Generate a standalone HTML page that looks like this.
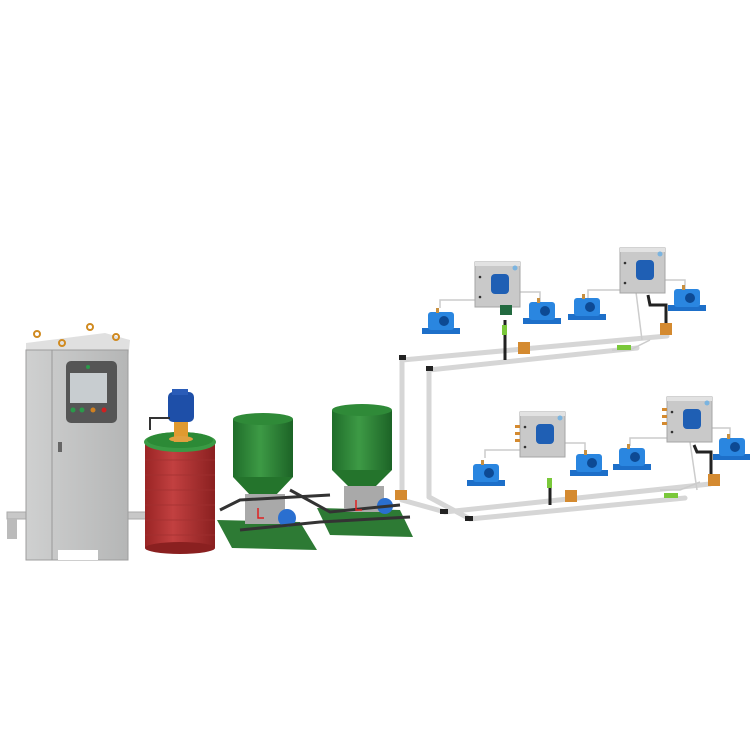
<!DOCTYPE html>
<html><head><meta charset="utf-8"><style>html,body{margin:0;padding:0;background:#fff}svg{display:block}</style></head>
<body>
<svg width="750" height="750" viewBox="0 0 750 750" xmlns="http://www.w3.org/2000/svg">
<defs>
<linearGradient id="gc" x1="0" x2="1"><stop offset="0" stop-color="#cfd0d0"/><stop offset="1" stop-color="#b5b6b6"/></linearGradient>
<linearGradient id="red" x1="0" x2="1"><stop offset="0" stop-color="#9a2525"/><stop offset=".4" stop-color="#c24040"/><stop offset="1" stop-color="#8a2020"/></linearGradient>
<linearGradient id="grn" x1="0" x2="1"><stop offset="0" stop-color="#1f6d2a"/><stop offset=".45" stop-color="#3d9a45"/><stop offset="1" stop-color="#1c6326"/></linearGradient>
<g id="blk"><path d="M0 20 L38 20 L38 26 L0 26Z" fill="#1d6fc9"/><rect x="6" y="4" width="26" height="18" rx="3" fill="#2a86e0"/><circle cx="22" cy="13" r="5" fill="#0d4a94"/><rect x="14" y="0" width="3" height="5" fill="#c89040"/></g>
<g id="box"><rect x="0" y="0" width="45" height="45" fill="#c9c9c9" stroke="#a5a5a5"/><rect x="0" y="0" width="45" height="4" fill="#e2e2e2"/><rect x="16" y="12" width="18" height="20" rx="4" fill="#1f5fb4"/><circle cx="40" cy="6" r="2.5" fill="#7ab4e0"/><circle cx="5" cy="15" r="1.3" fill="#333"/><circle cx="5" cy="35" r="1.3" fill="#333"/></g>
</defs>
<!-- rails -->
<rect x="7" y="512" width="140" height="7" fill="#c8c8c8" stroke="#aaa"/>
<rect x="7" y="519" width="10" height="20" fill="#bbb"/>
<!-- cabinet -->
<polygon points="26,343 105,333 130,340 128,360 26,358" fill="#e0e0e0"/>
<rect x="26" y="350" width="102" height="210" fill="url(#gc)" stroke="#9d9d9d"/>
<line x1="52" y1="350" x2="52" y2="560" stroke="#999"/>
<rect x="66" y="361" width="51" height="62" rx="5" fill="#555"/>
<rect x="70" y="373" width="37" height="30" fill="#c8cdd0"/>
<circle cx="88" cy="367" r="2" fill="#2a9a4a"/>
<circle cx="73" cy="410" r="2.5" fill="#2a9a4a"/><circle cx="82" cy="410" r="2.5" fill="#2a9a4a"/><circle cx="93" cy="410" r="2.5" fill="#d08020"/><circle cx="104" cy="410" r="2.5" fill="#d02020"/>
<rect x="58" y="442" width="4" height="10" fill="#666"/>
<rect x="58" y="550" width="40" height="10" fill="#fff"/>
<circle cx="37" cy="334" r="3" fill="none" stroke="#d08a20" stroke-width="2"/><circle cx="90" cy="327" r="3" fill="none" stroke="#d08a20" stroke-width="2"/><circle cx="62" cy="343" r="3" fill="none" stroke="#d08a20" stroke-width="2"/><circle cx="116" cy="337" r="3" fill="none" stroke="#d08a20" stroke-width="2"/>
<!-- drum -->
<rect x="145" y="442" width="70" height="106" fill="url(#red)"/>
<ellipse cx="180" cy="548" rx="35" ry="6" fill="#8a2020"/>
<g stroke="#a03030" stroke-width="1" opacity=".7"><line x1="145" y1="460" x2="215" y2="460"/><line x1="145" y1="475" x2="215" y2="475"/><line x1="145" y1="490" x2="215" y2="490"/><line x1="145" y1="505" x2="215" y2="505"/><line x1="145" y1="520" x2="215" y2="520"/><line x1="145" y1="535" x2="215" y2="535"/></g>
<ellipse cx="180" cy="442" rx="36" ry="10" fill="#3a9a44"/>
<ellipse cx="180" cy="440" rx="33" ry="8" fill="#2c8a36"/>
<rect x="174" y="420" width="14" height="22" fill="#e09a30"/>
<ellipse cx="181" cy="439" rx="12" ry="3" fill="#e0a040"/>
<rect x="168" y="392" width="26" height="30" rx="5" fill="#1e4fa8"/>
<rect x="172" y="389" width="16" height="6" fill="#2a5cb8"/>
<path d="M150 430 L150 418 L170 418" stroke="#333" stroke-width="2" fill="none"/>
<!-- base plates -->
<polygon points="217,520 300,522 317,550 232,548" fill="#2d7a34"/>
<polygon points="317,508 400,510 413,537 330,535" fill="#2d7a34"/>
<!-- hopper 1 -->
<rect x="233" y="419" width="60" height="58" fill="url(#grn)"/>
<ellipse cx="263" cy="419" rx="30" ry="6" fill="#2f8a38"/>
<polygon points="233,477 293,477 275,496 251,496" fill="#24742c"/>
<rect x="245" y="494" width="40" height="30" fill="#a9a9a9"/>
<circle cx="287" cy="518" r="9" fill="#2a6fd0"/>
<!-- hopper 2 -->
<rect x="332" y="410" width="60" height="60" fill="url(#grn)"/>
<ellipse cx="362" cy="410" rx="30" ry="6" fill="#2f8a38"/>
<polygon points="332,470 392,470 374,488 350,488" fill="#24742c"/>
<rect x="344" y="486" width="40" height="26" fill="#a9a9a9"/>
<circle cx="385" cy="506" r="8" fill="#2a6fd0"/>
<g stroke="#333" stroke-width="3" fill="none"><path d="M220 510 L240 500 L330 495"/><path d="M290 490 L330 512 L400 505"/><path d="M240 530 L320 522 L410 517"/></g>
<g stroke="#e02020" stroke-width="1.5" fill="none"><path d="M258 508 v10 h6"/><path d="M356 500 v10 h6"/></g>
<!-- pipes -->
<g stroke="#d6d6d6" stroke-width="5" fill="none" stroke-linecap="round">
<path d="M402 500 L402 360 L667 336"/>
<path d="M429 497 L429 370 L637 348"/>
<path d="M402 500 L445 512 L710 484"/>
<path d="M429 497 L470 519 L685 498"/>
</g>
<g fill="#222"><rect x="399" y="355" width="7" height="5"/><rect x="426" y="366" width="7" height="5"/><rect x="440" y="509" width="8" height="5"/><rect x="465" y="516" width="8" height="5"/></g>
<rect x="395" y="490" width="12" height="10" fill="#d48a30"/>
<!-- upper distribution -->
<g stroke="#ccc" stroke-width="1.5" fill="none"><path d="M440 308 V300 H475"/><path d="M520 292 H540 V304"/><path d="M588 298 V290 H620"/><path d="M663 280 H685 V292"/><path d="M612 350 H630 L650 340"/><path d="M636 292 L642 340"/></g>
<g stroke="#222" stroke-width="3" fill="none"><path d="M648 295 L650 305 H666 V325"/><path d="M505 320 V360"/><path d="M550 480 V505"/><path d="M694 445 L697 452 H711 V475"/></g>
<use href="#box" x="475" y="262"/>
<use href="#box" x="620" y="248"/>
<use href="#blk" x="422" y="308"/>
<use href="#blk" x="523" y="298"/>
<use href="#blk" x="568" y="294"/>
<use href="#blk" x="668" y="285"/>
<rect x="500" y="305" width="12" height="10" fill="#226a40"/>
<rect x="502" y="325" width="5" height="10" fill="#7ac83a"/>
<rect x="518" y="342" width="12" height="12" fill="#d48a30"/>
<rect x="660" y="323" width="12" height="12" fill="#d48a30"/>
<rect x="617" y="345" width="14" height="5" fill="#7ac83a"/>
<!-- lower distribution -->
<g stroke="#ccc" stroke-width="1.5" fill="none"><path d="M485 458 V450 H520"/><path d="M565 443 H585 V452"/><path d="M630 446 V438 H667"/><path d="M710 428 H730 V438"/><path d="M660 490 H680 L700 482"/><path d="M690 442 L697 490"/></g>
<use href="#box" x="520" y="412"/>
<use href="#box" x="667" y="397"/>
<use href="#blk" x="467" y="460"/>
<use href="#blk" x="570" y="450"/>
<use href="#blk" x="613" y="444"/>
<use href="#blk" x="713" y="434"/>
<rect x="547" y="478" width="5" height="10" fill="#7ac83a"/>
<rect x="565" y="490" width="12" height="12" fill="#d48a30"/>
<rect x="708" y="474" width="12" height="12" fill="#d48a30"/>
<rect x="664" y="493" width="14" height="5" fill="#7ac83a"/>
<g fill="#d48a30"><rect x="515" y="425" width="5" height="3"/><rect x="515" y="432" width="5" height="3"/><rect x="515" y="439" width="5" height="3"/><rect x="662" y="408" width="5" height="3"/><rect x="662" y="415" width="5" height="3"/><rect x="662" y="422" width="5" height="3"/></g>
</svg>
</body></html>
